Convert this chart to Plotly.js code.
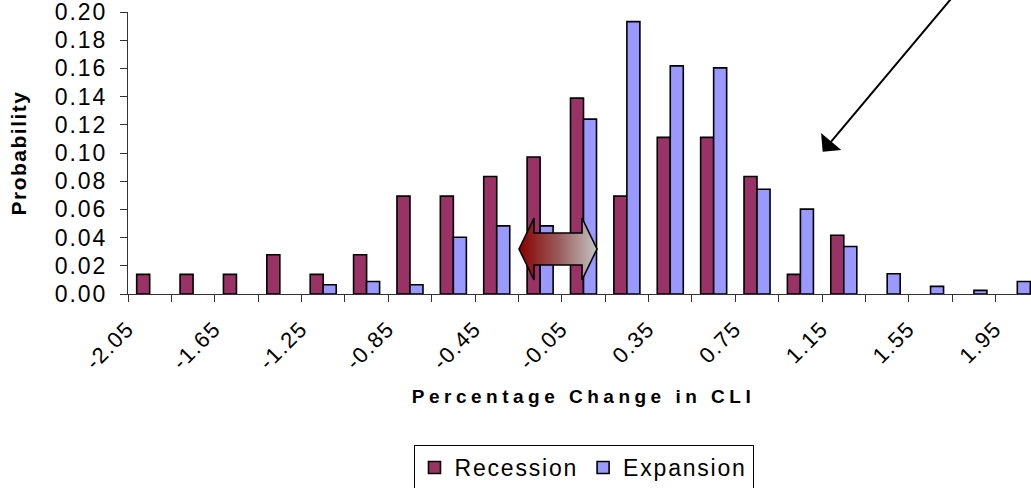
<!DOCTYPE html>
<html>
<head>
<meta charset="utf-8">
<script src="https://cdn.plot.ly/plotly-3.0.1.min.js"></script>
<style>
  html, body { margin: 0; padding: 0; width: 1031px; height: 488px; overflow: hidden; background: #fff; }
  #chart { position: absolute; left: 0; top: -20px; width: 1060px; height: 530px; }
  .xtitle { letter-spacing: 4.5px; }
  .ytitle { letter-spacing: 1.5px; }
  .ytick text { letter-spacing: 2px; }
  .xtick text { letter-spacing: 1.5px; }
  .legendtext { letter-spacing: 1.8px; }
</style>
</head>
<body>
<div id="chart"></div>
<script>
// Bin centres (percentage change in CLI)
var categories = [-2.05, -1.85, -1.65, -1.45, -1.25, -1.05, -0.85, -0.65, -0.45, -0.25, -0.05,
                  0.15, 0.35, 0.55, 0.75, 0.95, 1.15, 1.35, 1.55, 1.75, 1.95];
// Probabilities
var recession = [0.0139, 0.0139, 0.0139, 0.0278, 0.0139, 0.0278, 0.0694, 0.0694, 0.0833, 0.0972, 0.1389,
                 0.0694, 0.1111, 0.1111, 0.0833, 0.0139, 0.0417, 0, 0, 0, 0];
var expansion = [0, 0, 0, 0, 0.0066, 0.0089, 0.0066, 0.0403, 0.0483, 0.0483, 0.1240,
                 0.1932, 0.1618, 0.1604, 0.0743, 0.0602, 0.0337, 0.0144, 0.0054, 0.0026, 0.0089];
// Tick labels shown on the x axis
var xTickLabels = ["-2.05", "-1.65", "-1.25", "-0.85", "-0.45", "-0.05", "0.35", "0.75", "1.15", "1.55", "1.95"];
var yTickValues = [0, 0.02, 0.04, 0.06, 0.08, 0.10, 0.12, 0.14, 0.16, 0.18, 0.20];

var FONT = "Liberation Sans, Arial, sans-serif";

// empty bins draw no bar
function noZero(arr) { return arr.map(function (v) { return v === 0 ? null : v; }); }

var traces = [
  { type: "bar", name: "Recession", x: categories, y: noZero(recession),
    marker: { color: "#993366", line: { color: "#000000", width: 1.6 } }, hoverinfo: "skip" },
  { type: "bar", name: "Expansion", x: categories, y: noZero(expansion),
    marker: { color: "#9999FF", line: { color: "#000000", width: 1.6 } }, hoverinfo: "skip" }
];

var arrowSvg = '<svg xmlns="http://www.w3.org/2000/svg" width="80" height="64" viewBox="0 0 80 64">' +
  '<defs><linearGradient id="g" x1="0" y1="0" x2="1" y2="0">' +
  '<stop offset="0" stop-color="#8a0000"/><stop offset="0.5" stop-color="#9a5a5a"/><stop offset="1" stop-color="#c4c4c4"/>' +
  '</linearGradient></defs>' +
  '<polygon points="1,32 16,1 16,16 64,16 64,1 79,32 64,63 64,48 16,48 16,63" fill="url(#g)" stroke="#000" stroke-width="1.6" stroke-linejoin="miter"/>' +
  '</svg>';

var layout = {
  width: 1060, height: 530,
  margin: { l: 128, r: 21, t: 32, b: 216 },
  paper_bgcolor: "#ffffff", plot_bgcolor: "#ffffff",
  font: { family: FONT, color: "#000000", size: 22 },
  barmode: "group", bargap: 0.4, bargroupgap: 0,
  showlegend: true,
  legend: {
    orientation: "h", x: 0.5, xanchor: "center", y: -0.5355, yanchor: "top",
    bordercolor: "#000000", borderwidth: 1, font: { family: FONT, size: 23 },
    itemwidth: 30, traceorder: "normal"
  },
  xaxis: {
    type: "linear", range: [-2.15, 2.05], fixedrange: true,
    tickmode: "array", tickvals: xTickLabels.map(Number), ticktext: xTickLabels,
    ticks: "", tickangle: -45, ticklabelshift: -22, ticklabelstandoff: 12,
    tickfont: { family: FONT, size: 22 },
    minor: { tickmode: "linear", tick0: -2.15, dtick: 0.2, ticks: "outside", ticklen: 7, tickcolor: "#333333", tickwidth: 1, showgrid: false },
    showgrid: false, zeroline: false, showline: true, linecolor: "#333333", linewidth: 1,
    title: { text: "Percentage Change in CLI", font: { family: FONT, size: 19, weight: "bold" }, standoff: 16 }
  },
  yaxis: {
    range: [0, 0.2], fixedrange: true,
    tickmode: "array", tickvals: yTickValues, tickformat: ".2f",
    ticks: "outside", ticklen: 7, tickcolor: "#333333", ticklabelstandoff: 8,
    tickfont: { family: FONT, size: 23 },
    showgrid: false, zeroline: false, showline: true, linecolor: "#333333", linewidth: 1,
    title: { text: "Probability", font: { family: FONT, size: 21, weight: "bold" }, standoff: 22 }
  },
  annotations: [
    { xref: "paper", yref: "paper", x: (822.7 - 128) / 911, y: (294 - 151.7) / 282,
      ax: 136, ay: -162, axref: "pixel", ayref: "pixel",
      showarrow: true, arrowhead: 1, arrowsize: 2.2, arrowwidth: 2, arrowcolor: "#000000", text: "" }
  ],
  images: [
    { source: "data:image/svg+xml;utf8," + encodeURIComponent(arrowSvg),
      xref: "paper", yref: "paper", x: (518 - 128) / 911, y: (294 - 217) / 282,
      sizex: 80 / 911, sizey: 64 / 282, sizing: "stretch", xanchor: "left", yanchor: "top", layer: "above" }
  ]
};

Plotly.newPlot("chart", traces, layout, { displayModeBar: false, staticPlot: true });
</script>
</body>
</html>
